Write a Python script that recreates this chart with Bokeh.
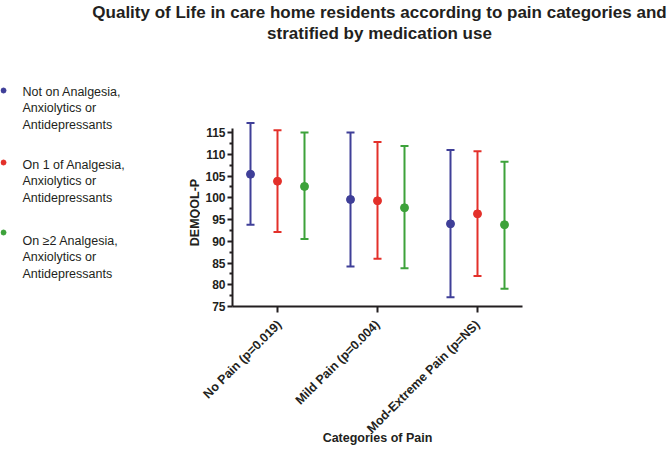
import math
from bokeh.plotting import figure
from bokeh.layouts import column, row
from bokeh.models import (ColumnDataSource, Whisker, TeeHead, FixedTicker, Label, Range1d)
from bokeh.embed import file_html
from bokeh.resources import INLINE

# ---------------- data ----------------
categories = ["No Pain (p=0.019)", "Mild Pain (p=0.004)", "Mod-Extreme Pain (p=NS)"]
group_names = [
    "Not on Analgesia,\nAnxiolytics or\nAntidepressants",
    "On 1 of Analgesia,\nAnxiolytics or\nAntidepressants",
    "On \u22652 Analgesia,\nAnxiolytics or\nAntidepressants",
]
none_mean = [105.4, 99.6, 94.0]
none_upper = [117.2, 115.0, 111.0]
none_lower = [93.8, 84.2, 77.1]

one_mean = [103.8, 99.3, 96.3]
one_upper = [115.5, 112.8, 110.7]
one_lower = [92.1, 86.0, 82.0]

two_mean = [102.6, 97.7, 93.8]
two_upper = [115.0, 111.9, 108.3]
two_lower = [90.5, 83.8, 79.1]

y_ticks = [75, 80, 85, 90, 95, 100, 105, 110, 115]
y_minor = [77.5, 82.5, 87.5, 92.5, 97.5, 102.5, 107.5, 112.5]
y_axis_span = (75, 116)

title_lines = ["Quality of Life in care home residents according to pain categories and",
               "stratified by medication use"]
y_title = "DEMQOL-P"
x_title = "Categories of Pain"

# ---------------- style / layout ----------------
colors = ["#3f3f98", "#e3302a", "#3da23a"]
offsets = [-0.27, 0.0, 0.27]
FONT = "Liberation Sans"
INK = "#231f20"

PAGE_W, PAGE_H = 667, 459
TITLE_H = 42
LEG_W = 200
MAIN_W, MAIN_H = PAGE_W - LEG_W, PAGE_H - TITLE_H
L, R, T, B = 32, 145, 0, 153          # main figure borders
FRAME_BOTTOM = PAGE_H - B             # page y of the value 75
PX_PER_UNIT = 4.35
X0, X1 = 0.55, 3.45
Y0 = 75
Y1 = Y0 + (MAIN_H - T - B) / PX_PER_UNIT

# legend / side texts placement (page pixels)
leg_dot_x, leg_text_x = 3, 22
leg_dot_y = [90, 162, 232]
leg_text_top = [84, 157, 233]
y_title_pos = (194, 212)


def blank(width, height, top, bottom, y_top, y_bottom):
    f = figure(width=width, height=height, output_backend="svg", toolbar_location=None,
               x_axis_type=None, y_axis_type=None,
               min_border_left=0, min_border_right=0,
               min_border_top=top, min_border_bottom=bottom,
               x_range=Range1d(0, width), y_range=Range1d(y_bottom, y_top))
    f.outline_line_color = None
    f.background_fill_color = "white"
    return f


# ---------------- title ----------------
pt = blank(PAGE_W, TITLE_H, 0, 0, 0, TITLE_H)
center_x = LEG_W + L + (MAIN_W - L - R) / 2
for i, line in enumerate(title_lines):
    pt.add_layout(Label(x=center_x + 2, y=12 + 21 * i, text=line,
                        text_align="center", text_baseline="alphabetic",
                        text_font=FONT, text_font_style="bold",
                        text_font_size="17px", text_color=INK))

# ---------------- legend + y title ----------------
pl = blank(LEG_W, MAIN_H, T, B, TITLE_H + T, FRAME_BOTTOM)
pl.scatter(x=[leg_dot_x] * 3, y=leg_dot_y, size=5, color=colors)
pl.text(x=[leg_text_x] * 3, y=leg_text_top, text=group_names,
        text_align="left", text_baseline="top",
        text_font={"value": FONT}, text_font_size={"value": "12.5px"},
        text_color=INK, text_line_height=1.18)
pl.text(x=[y_title_pos[0]], y=[y_title_pos[1]], text=[y_title], angle=math.pi / 2,
        text_align="center", text_baseline="middle",
        text_font={"value": FONT}, text_font_style="bold",
        text_font_size={"value": "12.5px"}, text_color=INK)

# ---------------- main chart ----------------
p = figure(width=MAIN_W, height=MAIN_H, output_backend="svg", toolbar_location=None,
           x_range=Range1d(X0, X1), y_range=Range1d(Y0, Y1),
           min_border_left=L, min_border_right=R, min_border_top=T, min_border_bottom=B)
p.outline_line_color = None
p.grid.visible = False
p.background_fill_color = "white"

xs_cat = [i + 1 for i in range(len(categories))]
series = [(none_mean, none_upper, none_lower),
          (one_mean, one_upper, one_lower),
          (two_mean, two_upper, two_lower)]

for k, (m, up, lo) in enumerate(series):
    src = ColumnDataSource(dict(x=[c + offsets[k] for c in xs_cat], mean=m, upper=up, lower=lo))
    w = Whisker(source=src, base="x", upper="upper", lower="lower", dimension="height",
                line_color=colors[k], line_width=2,
                upper_head=TeeHead(size=8, line_color=colors[k], line_width=2),
                lower_head=TeeHead(size=8, line_color=colors[k], line_width=2))
    p.add_layout(w)
    p.scatter("x", "mean", source=src, size=8, color=colors[k])

for ax in (p.xaxis[0], p.yaxis[0]):
    ax.axis_line_width = 2
    ax.axis_line_color = INK
    ax.major_tick_line_width = 2
    ax.major_tick_line_color = INK
    ax.major_label_text_font = FONT
    ax.major_label_text_font_style = "bold"
    ax.major_label_text_color = INK
    ax.axis_label_text_font = FONT
    ax.axis_label_text_font_style = "bold"
    ax.axis_label_text_color = INK

p.yaxis.ticker = FixedTicker(ticks=y_ticks, minor_ticks=y_minor)
p.yaxis.bounds = y_axis_span
p.yaxis.major_tick_out = 5
p.yaxis.major_tick_in = 0
p.yaxis.minor_tick_out = 3
p.yaxis.minor_tick_in = 0
p.yaxis.minor_tick_line_width = 2
p.yaxis.minor_tick_line_color = INK
p.yaxis.major_label_text_font_size = "12px"
p.yaxis.major_label_standoff = 2

p.xaxis.ticker = FixedTicker(ticks=xs_cat, minor_ticks=[])
p.xaxis.major_label_overrides = {x: c for x, c in zip(xs_cat, categories)}
p.xaxis.major_label_orientation = math.pi / 4
p.xaxis.major_label_text_font_size = "12.5px"
p.xaxis.major_label_standoff = 10
p.xaxis.major_tick_out = 6
p.xaxis.major_tick_in = 0
p.xaxis.axis_label = x_title
p.xaxis.axis_label_text_font_size = "12.5px"
p.xaxis.axis_label_standoff = -13

layout = column(pt, row(pl, p, spacing=0), spacing=0)
open("out.html", "w").write(file_html(layout, INLINE))
